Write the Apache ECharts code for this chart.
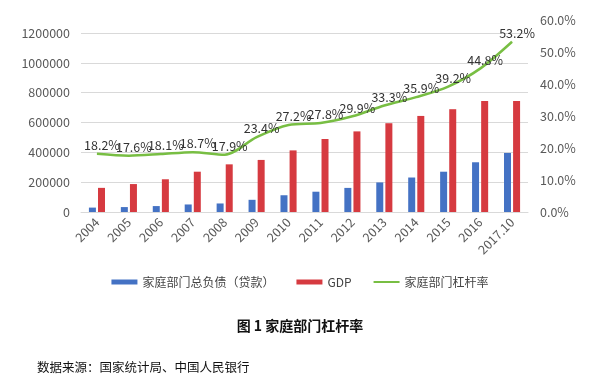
<!DOCTYPE html>
<html><head><meta charset="utf-8">
<script src="https://cdn.jsdelivr.net/npm/echarts@6/dist/echarts.min.js"></script>
<style>html,body{margin:0;padding:0;background:#fff}#c{width:600px;height:380px}</style>
</head><body><div id="c"></div>
<script>
const categories = ['2004','2005','2006','2007','2008','2009','2010','2011','2012','2013','2014','2015','2016','2017.10'];
const debt = [29500, 33000, 39700, 50500, 57200, 81700, 112300, 136000, 161600, 198200, 231200, 270100, 333400, 395900];
const gdp = [161800, 187300, 219400, 270200, 319500, 349100, 413000, 489300, 540400, 595200, 644000, 689100, 744100, 744100];
const leverage = [18.2, 17.6, 18.1, 18.7, 17.9, 23.4, 27.2, 27.8, 29.9, 33.3, 35.9, 39.2, 44.8, 53.2];
const seriesNames = ['家庭部门总负债（贷款）', 'GDP', '家庭部门杠杆率'];
const titleText = '图 1 家庭部门杠杆率';
const sourceText = '数据来源：国家统计局、中国人民银行';

const font = '"Noto Sans CJK SC", "Noto Sans", sans-serif';
const chart = echarts.init(document.getElementById('c'));
chart.setOption({
  animation: false,
  backgroundColor: '#fff',
  textStyle: { fontFamily: font },
  graphic: [
    { type: 'text', left: 'center', top: 319, style: { text: titleText, font: 'bold 14px ' + font, fill: '#111' } },
    { type: 'text', left: 37, top: 361, style: { text: sourceText, font: '12.5px ' + font, fill: '#111' } }
  ],
  legend: {
    top: 271, left: 'center',
    itemWidth: 26, itemHeight: 5, itemGap: 22,
    textStyle: { fontSize: 12, color: '#444', fontFamily: font },
    data: [
      { name: seriesNames[0], icon: 'rect' },
      { name: seriesNames[1], icon: 'rect' },
      { name: seriesNames[2], icon: 'path://M0,2 L26,2 L26,4 L0,4 Z', itemStyle: { color: '#78BE43', opacity: 1 } }
    ]
  },
  grid: [
    { left: 81, right: 72, top: 33, bottom: 168 },
    { left: 81, right: 72, top: 20, bottom: 168 }
  ],
  xAxis: [
    {
      type: 'category', data: categories, gridIndex: 0,
      axisLine: { lineStyle: { color: '#d9d9d9' } },
      axisTick: { show: false },
      axisLabel: { rotate: 45, color: '#595959', fontSize: 12.5, margin: 8, interval: 0, fontFamily: font }
    },
    { type: 'category', data: categories, gridIndex: 1, show: false }
  ],
  yAxis: [
    {
      type: 'value', gridIndex: 0, min: 0, max: 1200000, interval: 200000,
      axisLine: { show: false }, axisTick: { show: false },
      splitLine: { lineStyle: { color: '#d9d9d9' } },
      axisLabel: { color: '#595959', fontSize: 12.5, margin: 11, fontFamily: font, formatter: v => String(v) }
    },
    {
      type: 'value', gridIndex: 1, position: 'right', min: 0, max: 60, interval: 10,
      axisLine: { show: false }, axisTick: { show: false }, splitLine: { show: false },
      axisLabel: { color: '#595959', fontSize: 12.5, margin: 12, fontFamily: font,
        formatter: v => v.toFixed(1) + '%' }
    }
  ],
  series: [
    { name: seriesNames[0], type: 'bar', xAxisIndex: 0, yAxisIndex: 0, data: debt,
      barWidth: 7, barGap: '30%', itemStyle: { color: '#4472C4' } },
    { name: seriesNames[1], type: 'bar', xAxisIndex: 0, yAxisIndex: 0, data: gdp,
      barWidth: 7, barGap: '30%', itemStyle: { color: '#D63A40' } },
    { name: seriesNames[2], type: 'line', xAxisIndex: 1, yAxisIndex: 1, data: leverage,
      smooth: 0.3, showSymbol: true, symbol: 'circle', symbolSize: 0.5,
      lineStyle: { color: '#78BE43', width: 2.5 }, itemStyle: { color: '#78BE43' },
      labelLayout: { hideOverlap: false, dx: 5 },
      label: { show: true, position: 'top', distance: 2, color: '#333', fontSize: 12.5, fontFamily: font,
        formatter: p => p.value.toFixed(1) + '%' } }
  ]
});
</script></body></html>
